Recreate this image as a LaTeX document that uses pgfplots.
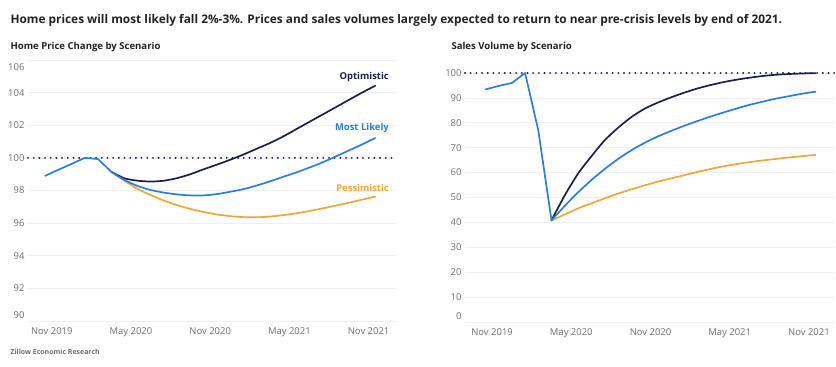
\documentclass[border=0pt]{standalone}
\usepackage{pgfplots}
\usepackage{pgfplotstable}
\pgfplotsset{compat=1.18}
\usepackage{fontspec}
\setmainfont{Open Sans}
\definecolor{opt}{HTML}{1B1F4B}
\definecolor{ml}{HTML}{2B7DE0}
\definecolor{pes}{HTML}{F0A733}
\definecolor{tickc}{HTML}{6E6E6E}
\definecolor{gridc}{HTML}{EFEFEF}
\definecolor{titlec}{HTML}{222222}

\pgfplotstableread{
m opt ml pes
-0.5 98.9 98.9 98.9
0.5 99.27 99.27 99.27
1.5 99.63 99.63 99.63
2.5 100.0 100.0 100.0
3.5 99.93 99.93 99.93
4.5 99.15 99.15 99.15
5.5 98.75 98.65 98.60
6.5 98.60 98.28 98.10
7.5 98.55 98.03 97.72
8.5 98.60 97.87 97.38
9.5 98.76 97.76 97.10
10.5 99.00 97.70 96.87
11.5 99.30 97.70 96.68
12.5 99.58 97.78 96.53
13.5 99.88 97.92 96.43
14.5 100.20 98.08 96.37
15.5 100.55 98.30 96.36
16.5 100.90 98.55 96.40
17.5 101.30 98.83 96.49
18.5 101.75 99.10 96.60
19.5 102.20 99.40 96.74
20.5 102.65 99.72 96.90
21.5 103.10 100.08 97.07
22.5 103.55 100.45 97.25
23.5 104.00 100.82 97.44
24.5 104.42 101.22 97.62
}\pricetable

\pgfplotstableread{
m opt ml pes
-0.5 93.4 93.4 93.4
0.5 94.8 94.8 94.8
1.5 96.0 96.0 96.0
2.5 100.0 100.0 100.0
3.5 77.0 77.0 77.0
4.5 40.8 40.8 40.8
5.5 50.8 46.6 43.2
6.5 59.5 52.0 45.6
7.5 66.4 56.9 47.6
8.5 72.8 61.3 49.6
9.5 77.8 65.3 51.5
10.5 82.1 68.8 53.2
11.5 85.5 71.8 54.8
12.5 88.0 74.4 56.3
13.5 90.1 76.6 57.6
14.5 92.0 78.7 58.9
15.5 93.7 80.6 60.2
16.5 95.1 82.4 61.4
17.5 96.3 84.1 62.5
18.5 97.3 85.7 63.4
19.5 98.1 87.2 64.2
20.5 98.8 88.5 64.9
21.5 99.3 89.7 65.5
22.5 99.6 90.7 66.1
23.5 99.8 91.7 66.6
24.5 99.95 92.5 67.1
}\volumetable

\pgfplotsset{zstyle/.style={
  scale only axis,
  axis line style={draw=none},
  major tick length=0pt,
  ymajorgrids,
  grid style={draw=gridc, line width=0.6pt},
  tick label style={font=\fontsize{9.5}{11}\selectfont, text=tickc},
  /pgf/number format/assume math mode=true,
  clip=false,
  xtick={0,6,12,18,24},
  xticklabels={Nov 2019,May 2020,Nov 2020,May 2021,Nov 2021},
  xticklabel style={yshift=-3pt},
  every axis plot/.append style={line width=1.7pt, line join=round, line cap=round},
},
scen/.style={smooth, tension=0.45, restrict x to domain=4.4:25},
common/.style={restrict x to domain=-1:4.6},
dots/.style={opt, line width=2.1pt, line cap=round, dash pattern=on 0pt off 5.7pt}}

\begin{document}
\begin{tikzpicture}[x=1bp,y=1bp]
\path[use as bounding box] (0,0) rectangle (836,366);
\node[anchor=west, text=titlec, font=\fontsize{11.9}{13}\selectfont\bfseries] at (7,346) {Home prices will most likely fall 2\%-3\%. Prices and sales volumes largely expected to return to near pre-crisis levels by end of 2021.};
\node[anchor=west, text=titlec, font=\fontsize{9.6}{11}\selectfont\bfseries] at (7,319) {Home Price Change by Scenario};
\node[anchor=west, text=titlec, font=\fontsize{9.6}{11}\selectfont\bfseries] at (448,319) {Sales Volume by Scenario};
\node[anchor=west, text=tickc, font=\fontsize{7}{8}\selectfont\bfseries] at (7,14) {Zillow Economic Research};

\begin{axis}[zstyle,
  at={(28bp,45bp)}, anchor=south west,
  width=367bp, height=261bp,
  xmin=-1.8, xmax=26, ymin=90, ymax=106,
  ytick={90,92,94,96,98,100,102,104,106},
  yticklabels={\raisebox{2.6pt}[0pt][0pt]{90},92,94,96,98,100,102,104,\raisebox{-10.4pt}[0pt][0pt]{106}},
]
\addplot[dots] coordinates {(-1.8,100) (25.8,100)};
\addplot[pes, scen] table[x=m, y=pes] {\pricetable};
\addplot[opt, scen] table[x=m, y=opt] {\pricetable};
\addplot[ml, scen] table[x=m, y=ml] {\pricetable};
\addplot[ml, common] table[x=m, y=ml] {\pricetable};
\node[anchor=east, text=opt, font=\fontsize{9.5}{11}\selectfont\bfseries] at (axis cs:25.8,104.95) {Optimistic};
\node[anchor=east, text=ml, font=\fontsize{9.5}{11}\selectfont\bfseries] at (axis cs:25.8,101.83) {Most Likely};
\node[anchor=east, text=pes, font=\fontsize{9.5}{11}\selectfont\bfseries] at (axis cs:25.8,98.17) {Pessimistic};
\end{axis}

\begin{axis}[zstyle,
  at={(465bp,44bp)}, anchor=south west,
  width=369bp, height=249bp,
  xmin=-2.05, xmax=25.9, ymin=0, ymax=100,
  ytick={0,10,20,30,40,50,60,70,80,90,100},
  yticklabels={\raisebox{2.6pt}[0pt][0pt]{0},10,20,30,40,50,60,70,80,90,100},
]
\addplot[dots] coordinates {(-2.05,100) (26.0,100)};
\addplot[pes, scen] table[x=m, y=pes] {\volumetable};
\addplot[opt, scen] table[x=m, y=opt] {\volumetable};
\addplot[ml, scen] table[x=m, y=ml] {\volumetable};
\addplot[ml, common] table[x=m, y=ml] {\volumetable};
\end{axis}
\end{tikzpicture}
\end{document}
